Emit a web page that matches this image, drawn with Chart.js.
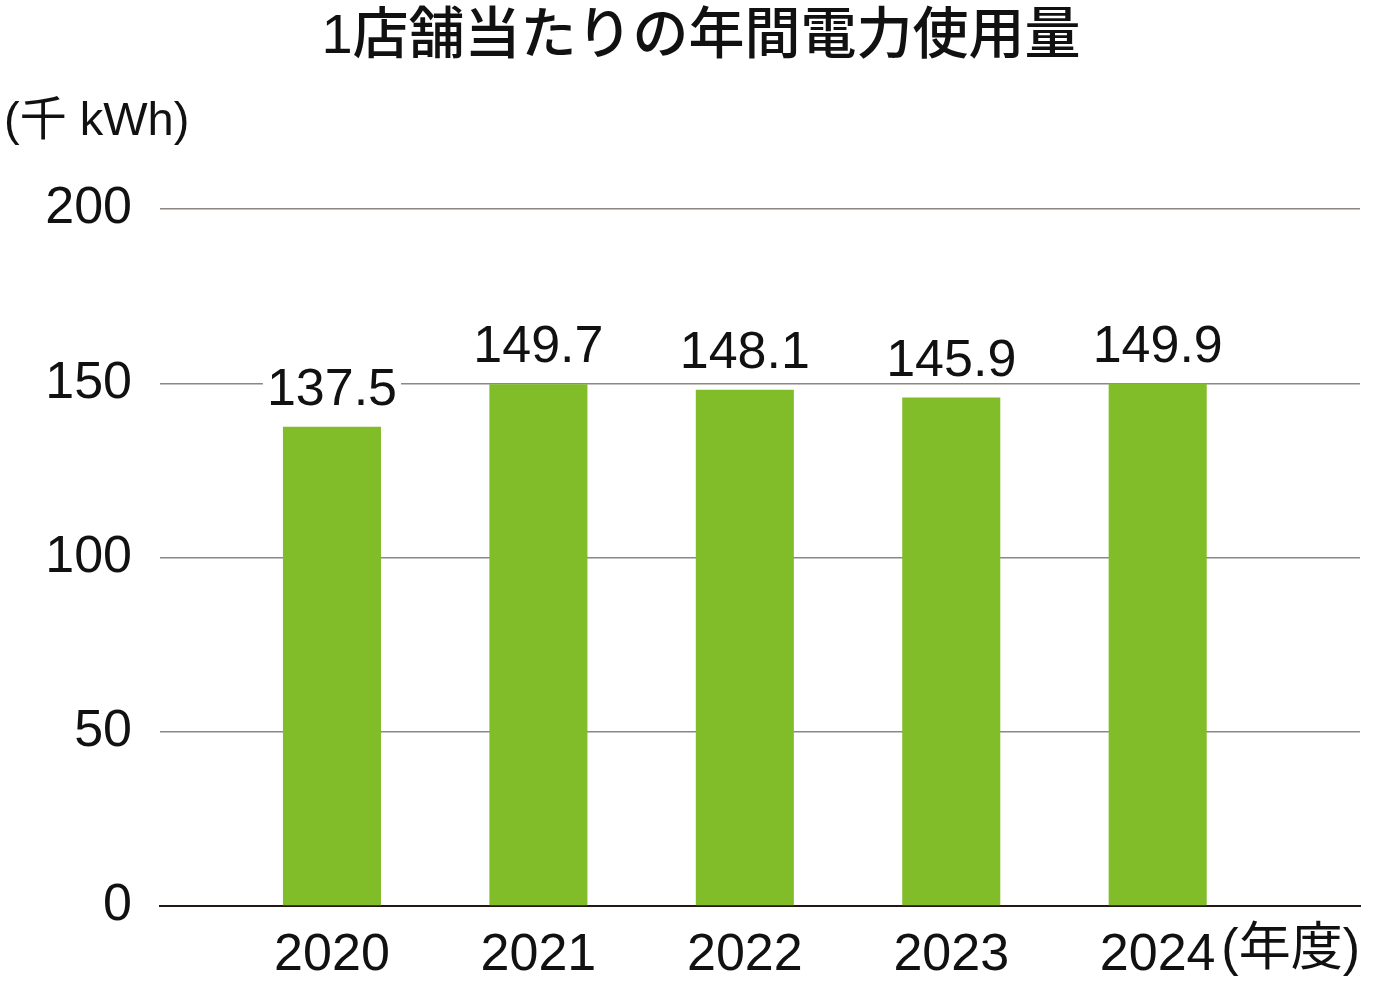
<!DOCTYPE html>
<html lang="ja">
<head>
<meta charset="utf-8">
<script src="https://cdn.jsdelivr.net/npm/chart.js@4/dist/chart.umd.min.js"></script>
<style>
  html, body { margin: 0; padding: 0; background: #fff; }
  #wrap { width: 1400px; height: 1000px; position: relative; }
</style>
</head>
<body>
<div id="wrap"><canvas id="power-chart" width="1400" height="1000"></canvas></div>
<script>
// chart values
const years = [2020, 2021, 2022, 2023, 2024];
const usage = [137.5, 149.7, 148.1, 145.9, 149.9]; // 千kWh
const yTicks = [0, 50, 100, 150, 200];

const chartTitle = "1店舗当たりの年間電力使用量";
const unitLabel = "(千 kWh)";
const yearUnit = "(年度)";

const FONT = '"Liberation Sans", "Noto Sans CJK JP", sans-serif';
const barColor = "#80bd29";

// title, unit text and value labels
const textPlugin = {
  id: "textPlugin",
  afterDraw(chart) {
    const ctx = chart.ctx;
    const area = chart.chartArea;
    ctx.save();
    ctx.fillStyle = "#111";
    ctx.textBaseline = "middle";

    ctx.font = '500 56px "Liberation Sans", "Noto Sans CJK JP", sans-serif';
    ctx.textAlign = "center";
    ctx.fillText(chartTitle, 701, 38);

    ctx.font = "47px " + FONT;
    ctx.textAlign = "left";
    ctx.fillText(unitLabel, 4, 122);

    ctx.font = "52px " + FONT;
    ctx.textAlign = "right";
    ctx.fillText(yearUnit, area.right, 951);

    // value labels above bars
    const meta = chart.getDatasetMeta(0);
    ctx.font = "52px " + FONT;
    ctx.textAlign = "center";
    ctx.textBaseline = "alphabetic";
    meta.data.forEach((bar, i) => {
      const txt = usage[i].toFixed(1);
      const w = ctx.measureText(txt).width;
      const base = bar.y - 22;
      ctx.fillStyle = "#fff";
      ctx.fillRect(bar.x - w / 2 - 4, base - 42, w + 8, 48);
      ctx.fillStyle = "#111";
      ctx.fillText(txt, bar.x, base);
    });
    ctx.restore();
  },
};

function initializeChart() {
  const ctx = document.getElementById("power-chart").getContext("2d");
  new Chart(ctx, {
    type: "bar",
    data: {
      datasets: [
        {
          data: years.map((y, i) => ({ x: y, y: usage[i] })),
          backgroundColor: barColor,
          borderWidth: 0,
          barPercentage: 0.475,
          categoryPercentage: 1,
        },
      ],
    },
    options: {
      responsive: false,
      animation: false,
      layout: { padding: { top: 209, right: 40, left: 0, bottom: 0 } },
      plugins: {
        legend: { display: false },
        title: { display: false },
        tooltip: { enabled: false },
      },
      scales: {
        x: {
          type: "linear",
          min: 2019.167,
          max: 2024.98,
          offset: false,
          afterFit(scale) { scale.height = 94; },
          afterBuildTicks(scale) {
            scale.ticks = years.map((v) => ({ value: v }));
          },
          grid: { display: false, drawTicks: false },
          border: { display: true, color: "#231815", width: 2 },
          ticks: {
            autoSkip: false,
            maxRotation: 0,
            padding: 18,
            color: "#111",
            font: { family: FONT, size: 52 },
            callback: (v) => String(v),
          },
        },
        y: {
          min: 0,
          max: 200,
          afterFit(scale) { scale.width = 160; },
          afterBuildTicks(scale) {
            scale.ticks = yTicks.map((v) => ({ value: v }));
          },
          grid: { color: "#8c8782", lineWidth: 1.5, drawTicks: false },
          border: { display: false },
          ticks: {
            padding: 28,
            color: "#111",
            font: { family: FONT, size: 52 },
          },
        },
      },
    },
    plugins: [textPlugin],
  });
}

initializeChart();
</script>
</body>
</html>
